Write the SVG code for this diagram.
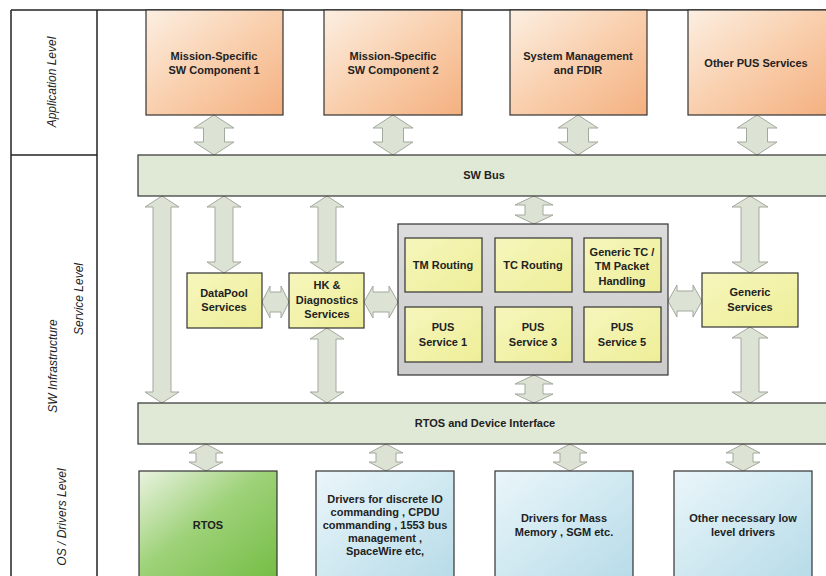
<svg xmlns="http://www.w3.org/2000/svg" width="826" height="576" viewBox="0 0 826 576">
<defs>
<linearGradient id="gOr" x1="0" y1="0" x2="1" y2="1"><stop offset="0" stop-color="#fcefe2"/><stop offset="0.5" stop-color="#f9cfad"/><stop offset="1" stop-color="#f4b080"/></linearGradient>
<linearGradient id="gYe" x1="0" y1="0" x2="1" y2="1"><stop offset="0" stop-color="#f6f6bd"/><stop offset="1" stop-color="#eeee98"/></linearGradient>
<linearGradient id="gGr" x1="0" y1="0" x2="1" y2="1"><stop offset="0" stop-color="#eaf3e1"/><stop offset="0.45" stop-color="#9fd27a"/><stop offset="1" stop-color="#74bd44"/></linearGradient>
<linearGradient id="gBl" x1="0" y1="0" x2="1" y2="1"><stop offset="0" stop-color="#eaf6fa"/><stop offset="1" stop-color="#b6dbe8"/></linearGradient>
<linearGradient id="gGy" x1="0" y1="0" x2="0" y2="1"><stop offset="0" stop-color="#dcdcdc"/><stop offset="1" stop-color="#cbcbcb"/></linearGradient>
</defs>
<style>
.frame{fill:none;stroke:#222;stroke-width:1.5}
.bar{fill:#e0e8d6;stroke:#333;stroke-width:1.2}
.org{fill:url(#gOr);stroke:#333;stroke-width:1.2}
.yel{fill:url(#gYe);stroke:#333;stroke-width:1.2}
.grn{fill:url(#gGr);stroke:#333;stroke-width:1.2}
.blu{fill:url(#gBl);stroke:#333;stroke-width:1.2}
.gry{fill:url(#gGy);stroke:#333;stroke-width:1.2}
.arr{fill:#dde3d4;stroke:#a2a99d;stroke-width:1}
.t{font-family:"Liberation Sans",Arial,sans-serif;font-size:11px;font-weight:bold;fill:#222;text-anchor:middle}
.lv{font-family:"Liberation Sans",Arial,sans-serif;font-size:12px;font-style:italic;fill:#222;text-anchor:middle}
</style>
<rect width="826" height="576" fill="#fff"/>
<g id="frame">
<line class="frame" x1="11" y1="10" x2="826" y2="10"/>
<line class="frame" x1="11" y1="10" x2="11" y2="576" stroke-width="2"/>
<line class="frame" x1="97" y1="10" x2="97" y2="576"/>
<line class="frame" x1="11" y1="155" x2="97" y2="155"/>
<text class="lv" transform="translate(56,82) rotate(-90)">Application Level</text>
<text class="lv" transform="translate(57,366) rotate(-90)">SW Infrastructure</text>
<text class="lv" transform="translate(83,299) rotate(-90)">Service Level</text>
<text class="lv" transform="translate(66,517) rotate(-90)">OS / Drivers Level</text>
</g>
<g id="connectors">
<path class="arr" d="M214,115 L234,128 L224.5,128 L224.5,142 L234,142 L214,155 L194,142 L203.5,142 L203.5,128 L194,128 Z"/>
<path class="arr" d="M393,115 L413,128 L403.5,128 L403.5,142 L413,142 L393,155 L373,142 L382.5,142 L382.5,128 L373,128 Z"/>
<path class="arr" d="M578,115 L598,128 L588.5,128 L588.5,142 L598,142 L578,155 L558,142 L567.5,142 L567.5,128 L558,128 Z"/>
<path class="arr" d="M757,115 L777,128 L767.5,128 L767.5,142 L777,142 L757,155 L737,142 L746.5,142 L746.5,128 L737,128 Z"/>
<path class="arr" d="M162,196 L179,207 L171,207 L171,392 L179,392 L162,403 L145,392 L153,392 L153,207 L145,207 Z"/>
<path class="arr" d="M224,196 L241,207 L233,207 L233,262 L241,262 L224,273 L207,262 L215,262 L215,207 L207,207 Z"/>
<path class="arr" d="M327,196 L344,207 L336,207 L336,262 L344,262 L327,273 L310,262 L318,262 L318,207 L310,207 Z"/>
<path class="arr" d="M327,328 L344,339 L336,339 L336,392 L344,392 L327,403 L310,392 L318,392 L318,339 L310,339 Z"/>
<path class="arr" d="M534,196 L553,205 L543,205 L543,215 L553,215 L534,224 L515,215 L525,215 L525,205 L515,205 Z"/>
<path class="arr" d="M534,375 L553,384 L543,384 L543,394 L553,394 L534,403 L515,394 L525,394 L525,384 L515,384 Z"/>
<path class="arr" d="M750,196 L768,207 L759,207 L759,262 L768,262 L750,273 L732,262 L741,262 L741,207 L732,207 Z"/>
<path class="arr" d="M750,327 L768,338 L759,338 L759,392 L768,392 L750,403 L732,392 L741,392 L741,338 L732,338 Z"/>
<path class="arr" d="M262,302 L270,286 L270,292 L281,292 L281,286 L289,302 L281,318 L281,312 L270,312 L270,318 Z"/>
<path class="arr" d="M364,302 L373,286 L373,292 L389,292 L389,286 L398,302 L389,318 L389,312 L373,312 L373,318 Z"/>
<path class="arr" d="M668,301 L677,285 L677,291 L693,291 L693,285 L702,301 L693,317 L693,311 L677,311 L677,317 Z"/>
<path class="arr" d="M206,444 L223,453 L216,453 L216,462 L223,462 L206,471 L189,462 L196,462 L196,453 L189,453 Z"/>
<path class="arr" d="M386,444 L403,453 L396,453 L396,462 L403,462 L386,471 L369,462 L376,462 L376,453 L369,453 Z"/>
<path class="arr" d="M570,444 L587,453 L580,453 L580,462 L587,462 L570,471 L553,462 L560,462 L560,453 L553,453 Z"/>
<path class="arr" d="M743,444 L760,453 L753,453 L753,462 L760,462 L743,471 L726,462 L733,462 L733,453 L726,453 Z"/>
</g>
<g id="app1"><rect class="org" x="146" y="10" width="137" height="105"/><text class="t" x="214" y="60">Mission-Specific</text><text class="t" x="214" y="74">SW Component 1</text></g>
<g id="app2"><rect class="org" x="324" y="10" width="138" height="105"/><text class="t" x="393" y="60">Mission-Specific</text><text class="t" x="393" y="74">SW Component 2</text></g>
<g id="app3"><rect class="org" x="510" y="10" width="137" height="105"/><text class="t" x="578" y="60">System Management</text><text class="t" x="578" y="74">and FDIR</text></g>
<g id="app4"><rect class="org" x="688" y="10" width="140" height="105"/><text class="t" x="756" y="67">Other PUS Services</text></g>
<g id="swbus"><rect class="bar" x="138" y="155" width="692" height="41"/><text class="t" x="484" y="179">SW Bus</text></g>
<g id="datapool"><rect class="yel" x="187" y="273" width="75" height="55"/><text class="t" x="224" y="297">DataPool</text><text class="t" x="224" y="311">Services</text></g>
<g id="hk"><rect class="yel" x="289" y="273" width="75" height="55"/><text class="t" x="327" y="289">HK &amp;</text><text class="t" x="327" y="304">Diagnostics</text><text class="t" x="327" y="318">Services</text></g>
<g id="pusgroup"><rect class="gry" x="398" y="224" width="270" height="151"/></g>
<g id="tmrouting"><rect class="yel" x="405" y="238" width="77" height="54"/><text class="t" x="443" y="269">TM Routing</text></g>
<g id="tcrouting"><rect class="yel" x="495" y="238" width="77" height="54"/><text class="t" x="533" y="269">TC Routing</text></g>
<g id="generictc"><rect class="yel" x="584" y="238" width="77" height="54"/><text class="t" x="622" y="256">Generic TC /</text><text class="t" x="622" y="270">TM Packet</text><text class="t" x="622" y="285">Handling</text></g>
<g id="pus1"><rect class="yel" x="405" y="307" width="77" height="55"/><text class="t" x="443" y="331">PUS</text><text class="t" x="443" y="346">Service 1</text></g>
<g id="pus3"><rect class="yel" x="495" y="307" width="77" height="55"/><text class="t" x="533" y="331">PUS</text><text class="t" x="533" y="346">Service 3</text></g>
<g id="pus5"><rect class="yel" x="584" y="307" width="77" height="55"/><text class="t" x="622" y="331">PUS</text><text class="t" x="622" y="346">Service 5</text></g>
<g id="generic"><rect class="yel" x="702" y="273" width="96" height="54"/><text class="t" x="750" y="296">Generic</text><text class="t" x="750" y="311">Services</text></g>
<g id="rtosbar"><rect class="bar" x="138" y="403" width="692" height="41"/><text class="t" x="485" y="427">RTOS and Device Interface</text></g>
<g id="rtos"><rect class="grn" x="139" y="471" width="138" height="110"/><text class="t" x="208" y="529">RTOS</text></g>
<g id="drv1"><rect class="blu" x="316" y="471" width="138" height="110"/><text class="t" x="385" y="503">Drivers for discrete IO</text><text class="t" x="385" y="516">commanding , CPDU</text><text class="t" x="385" y="529">commanding , 1553 bus</text><text class="t" x="385" y="542">management ,</text><text class="t" x="385" y="555">SpaceWire etc,</text></g>
<g id="drv2"><rect class="blu" x="495" y="471" width="138" height="110"/><text class="t" x="564" y="522">Drivers for Mass</text><text class="t" x="564" y="536">Memory , SGM etc.</text></g>
<g id="drv3"><rect class="blu" x="674" y="471" width="138" height="110"/><text class="t" x="743" y="522">Other necessary low</text><text class="t" x="743" y="536">level drivers</text></g>
</svg>
